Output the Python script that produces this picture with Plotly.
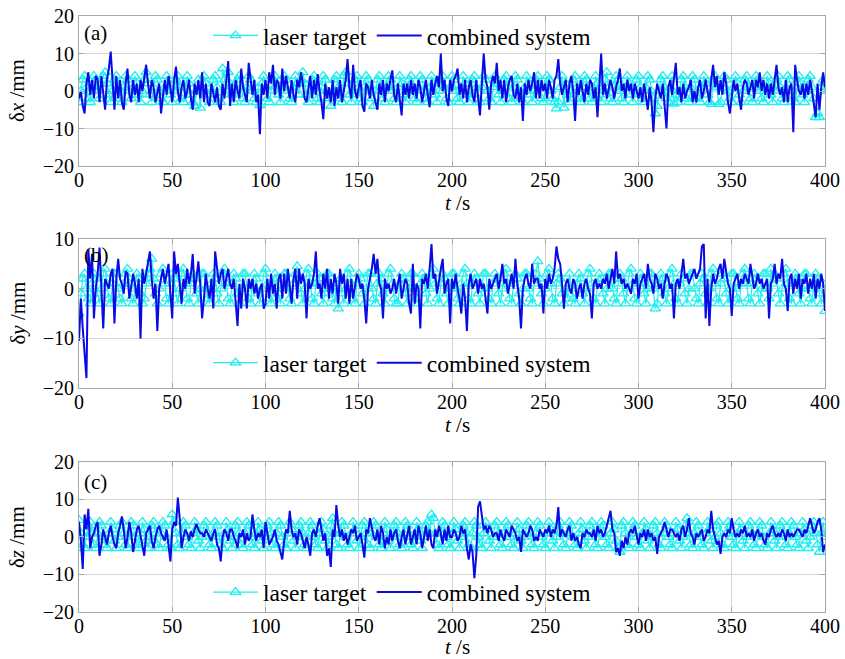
import plotly.graph_objects as go

# ---------------- data ----------------
t_cs = list(range(0, 401))   # combined system sample times (s)
t_lt = list(range(0, 401))   # laser target sample times (s)

cs_x = [
    -2, 0, -4, -6, 2, 5, -1, 3, -2, 4,
    3, -3, 4, -1, -5, 3, 6, 10.5, 4, -5,
    4, -2, 3, -3, -5, 2, 6, -1, -3, 3,
    -1, 2, -3, 3, 0, 4, 7, 2, -2, 3,
    1, -3, 0, 2, -6, -2, 3, -1, 4, 1,
    -3, 3, 6.5, 0, -3, 1, 3, -2, 0, 3,
    -2, -5, 2, -1, 3, -2, 5, -3, 2, -3,
    -4, 2, -1, -3, 1, -4, -5, 2, -2, 3,
    8, -4, 2, -3, 3, 0, -2, 6, 1, -1,
    -3, 7.5, 3, -1, 3, -3, -1, -11.5, 2, -1,
    3, -2, 5, 2, 7, -1, 3, 2, -2, 6,
    0, 4, 1, -2, 3, -1, -3, 3, 1, 5,
    2, -2, -3, 1, 4, -2, 3, -1, 4.5, 0,
    -3, -7.5, 2, -2, 1, -3, 3, -4, 1, -2,
    3, -3, 0, 3, 8.5, 1, -2, 7, 0, -2,
    1, 3, -4, -5.5, 2, 1, -2, 3, -1, -3,
    -5, 2, -1, 3, -3, 2, 0, 3, 5.5, -1,
    -3, 2, -3, -6.5, 2, -1, 2, -2, 3, -1,
    2, -2, 3, 1, -3, 0, 3, -1, -4.3, 3,
    -1, 2, 4, 1, 10, 0, 3, -2, -4, 3,
    0, 3, 4, 6, -1, 2, -2, 3, -3, 1,
    3, -1, -3, 3, -2, -6.5, 2, 10, 3, 1,
    -5, 2, 4, 2, 7.5, 0, 3, -2, 3, -3,
    1, 3, 4, -1, -2, 2, -3, 1, -8, 2,
    -1, 3, 0, 2, 5, -2, 3, -2, 3, 0,
    2, -2, 3, 1, -2, 3, 4, 8.5, 2, -1,
    1, 3, -3, 2, 4, 0, -8, 2, -1, 3,
    0, -3, 2, -1, 3, 2, -2, 1, -7, 3,
    10, -1, 2, -2, 1, 3, 1, -2, 1, 3,
    6, 0, 2, -2, 3, 0, 2, -2, 2, 0,
    -2, 1, -3, 2, -1, -5, 1, -3, -11, -2,
    2, 0, -2, 2, -3, -10, 1, 3, -1, 3,
    7.5, -1, 1, -3, 2, -2, 0, 1, 3, -3,
    0, -3, 1, 3, -2, 0, 3, 0, -3, 3,
    7, 1, 4, -1, 3, -1, 5, 2, -3, -6,
    -1, 3, 0, 2, -2, -5, 1, 3, 2, -1,
    1, 3, -2, 3, 1, 5, 0, 3, -1, 2,
    -2, 2, -1, 3, 7, 1, -1, 1, -3, 3,
    -3, 1, 2, -11, 7, 3, 0, -1, 2, -2,
    2, -1, 3, 0, -4, -7, 2, -5, 1, 5,
    1,
]

lt_x = [
    -3, 0, 3, 4, 1, -2, -3, 1, 4, 3,
    0, -2, 2, 4, 5, 2, -1, -3, 0, 3,
    4, 1, -2, -3, 1, 4, 3, 0, -2, 1,
    4, 2, -1, -3, 0, 3, 5, 2, -1, -3,
    1, 4, 3, 0, -2, -3, 1, 4, 2, -1,
    -3, 0, 3, 4, 1, -2, -3, 1, 4, 2,
    -1, -3, -4, 0, 3, -4.5, 1, 4, 2, -1,
    -3, 0, 3, 4, 1, -2, -3, 6, 3, 0,
    5, 2, -1, -3, 0, 3, 4, 1, -2, -3,
    1, 4, 3, 0, -2, -3, 1, -3.8, 2, 4,
    1, -2, -3, 0, 3, 4, 2, -1, -3, 1,
    4, 3, 0, -2, -3, 1, 4, 2, -1, 3,
    5, 2, -1, -3, 0, 3, 4, 1, -2, -3,
    1, 4, 3, 0, -2, -4, 0, 3, 4, 1,
    -2, -3, 4, 5, 2, -1, -3, 0, 3, 4,
    1, -2, -3, 1, 4, 3, 0, -2, -4, 0,
    3, 4, 1, -2, -3, 1, 4, 3, 0, -2,
    -3, 1, 4, 2, -1, -3, 0, 3, 4, 1,
    -2, -3, 1, 4, 3, 0, -2, -3, 1, 4,
    2, -1, -3, 0, 3, 4, 1, -2, -3, 1,
    4, 3, 0, -2, -3, 1, 4, 2, -1, -3,
    0, 3, 4, 1, -2, -3, 1, 4, 3, 0,
    -2, -3, 1, 4, 2, -1, -3, 0, 3, 4,
    1, -2, -3, 1, 4, 3, 0, -2, -3, 1,
    4, 2, -1, -3, 0, 3, 4, 1, -2, -3,
    1, 4, 3, 0, -2, -3, -4.7, -3, 1, 4,
    -4.5, 2, -1, -3, 0, 3, 4, 1, -2, -3,
    1, 4, 3, 0, -2, -3, 1, 4, 2, -1,
    -3, 0, 3, 5, 1, -2, -3, 1, 4, 3,
    0, -2, -3, 1, 4, 2, -1, -3, 0, 3,
    4, 1, -2, -3, 1, 4, 3, 0, -2, -6,
    -4, 0, 3, 4, 1, -2, -3, 1, 4, -3.4,
    -1, -3, 0, 3, 4, 1, -2, -3, 1, 4,
    3, 0, -2, -3, 1, 4, 2, -1, -3, -3.5,
    3, 4, 1, -3.5, -3, 1, 4, 3, 0, -2,
    -3, 1, 4, 2, -1, -3, 0, 3, 4, 1,
    -2, -3, 1, 4, 3, 0, -2, -3, 1, 4,
    2, -1, -3, 0, 3, 4, 1, -2, -3, 1,
    4, 3, 0, -2, -3, 1, 4, 2, -1, -3,
    0, 3, 4, 1, -2, -7, -6, -7, 1, 3,
    0,
]

cs_y = [
    -10.5, -2, -8, -13, -18, 8, 2, 7, -6, 0,
    3, 8.3, 0, -8, 2, 1, 0, 3, 4, -7,
    2, 6, 2, 1, -1, 3.5, 3, -2, 1, 3,
    1, -2, 2, -10, 4, 1, 3, 5, 7.5, 2,
    -2, 1, -8.5, 0, 2, 4, 1, 3, 5, -1,
    -6, 7.5, 3, 5, 1, -3, 2, 0, 4, 1,
    3, 7, -1, 2, 5.5, 1, -6, -2, 3, 0,
    -2, 2, -4, 7.5, 4, 1, 3, 4, 0, 2,
    4, 1, 0, 2, -2, -7.5, 1, -4, 2, 0,
    -4, 2, 0, 2, -1, 1, -2, 0, 1, -4,
    -3, 2, -2, 3, -1, 1, -4, 2, 3, -2,
    3, -1, 4, 1, -3, 2, 4, -2, 4, 1,
    3, 1, -6, 2, 0, 1, 3, 7.5, 0, 1,
    -2, 3, 0, 4, -2, 2, -1, 3, 1, -3,
    4, 1, 3, -2, 2, -3, 2, -2, 1, 3,
    2, 0, 1, -2, -7, 0, 2, 4, 7, 3,
    6, 1, 0, -6, 2, 0, 1, -1, 0, 2,
    -1, 1, 3, -2, 0, 2, 1, -3, -5, 5,
    -3, 1, 0, -8, 2, 1, 3, 0, 4, 9,
    2, 3, -1, 2, 4, 6, -1, 1, 2, -7,
    2, 0, 3, 0, -2, -5, 1, -2, -8.5, 1,
    3, 0, 1, 2, -1, 2, 0, 1, -2, -5,
    2, 0, 1, 2, 3, 0, 2, 5, 1, 2,
    -1, 1, 3, 0, 6, 1, -2, -8, 0, 2,
    3, 1, 0, 5, 1, 2, 2, 0, 1, -5,
    2, 0, 3, 1, 2, 4, 8.5, 6, 5, 1,
    -4, 1, 2, 0, -1, 2, 1, -2, 0, 1,
    -2, 1, 2, 0, -1, -6, 1, 2, 0, 1,
    0, 2, 1, 3, 0, 2, 4, 1, 7.5, 2,
    3, 1, 2, 0, 1, 0, -1, 2, 1, 3,
    -2, 1, 2, 3, 0, 5, 2, 1, -1, 3,
    2, 0, 1, -2, 1, 3, 2, 0, 1, -6,
    1, 2, 0, 3, 6, 2, 3, 1, 2, 3,
    4, 2, 3, 4, 8.5, 9, -6, 2, -7.5, 0,
    3, 1, 2, 4, 5, 2, 6, 3, 1, 0,
    -5.5, 1, 2, 3, 0, 2, 1, 3, 2, 1,
    5, 2, 0, 1, 3, 1, 2, 0, 1, 2,
    -6, 1, 2, 5, 1, 3, 2, 6, 1, 0,
    -4.5, 2, 3, -1, 2, 0, 3, -2, 2, 1,
    3, -1, 2, 0, 3, -2, 2, 0, 3, 1,
    -4.5,
]

lt_y = [
    -5, -1, 2, 3, 0, -2, -3, 1, 3, 2,
    -1, -3, 0, 3, 4, 1, -2, -3, 1, 3,
    3, 0, -2, -3, 1, 3, 4, 1, -2, -3,
    0, 3, 2, -1, -3, -2, 1, 3, 4, 6,
    2, -1, -3, 0, 3, 4, 1, -2, -3, 1,
    3, 2, -1, -3, 0, 3, 4, 1, -2, -3,
    1, 3, 2, -1, -3, 0, 3, 3, 0, -2,
    -3, 1, 3, 2, -1, -3, 0, 3, 4, 1,
    -2, -3, 1, 3, 2, -1, -3, 0, 3, 3,
    0, -2, -3, 1, 3, 2, -1, -3, 0, 3,
    4, 1, -2, -3, 1, 3, 2, -1, -3, 0,
    3, 3, 0, -2, -3, 1, 3, 4.5, 2, -1,
    -3, 0, 3, 4, 1, -2, -3, 1, 3, 2,
    -1, -3, 0, 3, 3, 0, -2, -3, 1, -4,
    2, -1, -3, 0, 3, 4, 1, -2, -3, 1,
    3, 2, -1, -3, 0, 3, 3, 0, -2, -3,
    1, 3, 2, -1, -3, 0, 3, 4, 1, -2,
    -3, -3, 1, 3, 2, -1, -3, 0, 3, 3,
    0, -2, -3, 1, 3, 2, -1, -3, 0, 3,
    4, 1, -2, -3, 1, 3, 2, -1, -3, 0,
    3, 3, 0, -2, -3, 1, 3, 4, 1, -2,
    -3, 1, 3, 2, -1, -3, 0, 3, 3, 0,
    -2, -3, 1, 3, 2, -1, -3, 0, 3, 4,
    1, -2, -3, 1, 3, 2, -1, -3, 0, 3,
    3, 0, -2, -3, 1, 3, 5.5, 2, -1, -3,
    0, 3, 4, 1, -2, -3, 1, 3, 2, -1,
    -3, 0, -2, 3, 0, -2, -3, 1, 3, 2,
    -1, -3, 0, 3, 4, 1, -2, -3, 1, 3,
    2, -1, -3, 0, 3, 3, 0, -2, -3, 1,
    3, 2, -1, -3, 0, 3, 4, 1, -2, -3,
    1, 3, 2, -1, -3, 0, 3, 3, 0, -4,
    -3, 1, 3, 2, -1, -3, 0, 3, 4, 1,
    -2, -3, 1, 3, 2, -1, -3, 0, 3, 3,
    0, -2, -3, 1, 3, 2, -1, -3, 0, 3,
    4, 1, -2, -3, 1, 3, 2, -1, -3, 0,
    3, 3, 0, -2, -3, 1, 3, 4, 1, -2,
    -3, 1, 3, 2, -1, -3, 0, 3, 3, 0,
    -2, 4, 1, 3, 2, -1, -3, 0, 3, 4,
    1, -2, -3, 1, 3, 2, -1, -3, 0, 3,
    3, 0, -2, -3, 1, 3, 2, -1, -3, 1,
    -4.5,
]

cs_z = [
    4, -1, -8.5, 6, 2, 7.5, -3, 0, 1, 3,
    4, -5, -2, 2, 0, -2, 1, 3, 0, -2,
    -3, 1, 3, 5.5, 2, -3, 0, 4, 1, -4,
    -1, 2, 3, 0, -2, -5, 1, 2, 3, -1,
    -3, 0, 2, 3, 1, 0, -1, 2, -3, -6.5,
    2, 4, 3, 10.5, 5, -3, 0, 2, 1, -1,
    1.5, 0, 2, 3.5, 2, 1, 1, 0, 2, 1,
    0, -1, 1, 2, -2, -3, -6.5, 0, 2, 1,
    -1, 2, 2, 0, -1, -3, 1, 0, 2, -2,
    1, -1, 0, 6, 2, -1, 1, 0, 2, -3,
    4, 1, -2, -1, 0, 2, -1, -2, -4, -6,
    -1, 2, 1, 7, 2, 0, 1, -2, 2, 1,
    -1, -3, 0, -2, -5, 1, 2, 0, 3, 5,
    2, -1, 1, -5, -3, -8, 2, 0, 8.5, 3,
    0, 2, -1, 1, -2, 0, 2, 1, 3, -1,
    0, 1, -2, -5.5, 2, 1, 5, 2, 0, -1,
    2, -2, 3, 1, -3, 0, -2, 2, -1, 1,
    2, -1, -3, 0, 2, -2, 1, 3, -2, 0,
    2, -2, 3, 1, -3, 0, 3, -1, 2, -2,
    -3, 2, 0, 3, 1, -2, 2, -1, 3, 0,
    0, 2, 1, -1, 0, 3, 1, 2, -3, -6,
    -2, -4, -11, -5, 8, 9.5, 6, 2, 3, 1,
    3, 2, 0, 1, 1, -1, 2, 0, -1, 2,
    1, 0, 3, 2, 1, -1, 0, -4, 2, 1,
    0, 1, 3, 2, -1, 0, -1, 2, 1, 0,
    2, 1, 3, 0, 2, 1, 3, 8, 0, 2,
    1, 0, 2, 3, -1, 1, -1, 0, -2, -3,
    1, 0, 2, 1, 1, 0, 2, -1, 3, 1,
    2, 0, 1, 3, 5, 7, 2, 1, -4, -3,
    -5, -1, -3, 0, -2, 1, 2, 1, 3, 0,
    -2, 1, 0, 2, -1, 2, 0, 1, -1, 0,
    -4.5, 0, 1, 2, 4, 2, 0, 2, 2, 1,
    0, 1, -1, 2, 3, 0, 2, 5, 1, 0,
    -2, 1, 0, 1, 2, -1, 0, 2, 1, 7,
    2, 0, -2, -1, -4.5, 0, 1, 0, 2, 1,
    5, 2, 0, 1, 0, 2, 1, 3, 0, 1,
    0, 2, -1, 1, 2, 0, 1, -1, -2, 1,
    0, 2, 3, 1, 0, 1, 0, 2, 1, -1,
    2, 0, 1, 0, 1, 2, 2, 1, 0, 2,
    1, 3, 5, 3, 1, 2, 4, 5, 2, -4,
    -2,
]

lt_z = [
    4.5, 1, -2, -3, 0, 3, 4, 1, -2, -3,
    1, 4, 3, 0, -2, -3, 1, 4, 2, -1,
    -3, 0, 3, 4, 1, -2, -3, 1, 4, 3,
    0, -2, -3, 1, 4, 2, -1, -3, 0, 3,
    4, 1, -2, -3, 1, 4, 3, 0, -2, -3,
    6, 4, 1, -2, -3, 1, 4, 3, 0, -2,
    -3, 1, 4, 2, -1, -3, 0, 3, 4, 1,
    -2, -3, 1, 4, 3, 0, -2, -3, 1, 4,
    2, -1, -3, 0, 3, 4, 1, -2, -3, 1,
    4, 3, 0, -2, -3, 1, 4, 2, -1, -3,
    0, 3, 4, 1, -2, -3, 1, 4, 3, 0,
    -2, -3, 1, 4, 2, -1, -3, 0, 3, 4,
    1, -2, -3, 1, 4, 3, 0, -2, -3, 1,
    4, 2, -1, -3, 0, 3, 5, 1, -2, -3,
    1, 4, 3, 0, -2, -3, 1, 4, 2, -1,
    -3, 0, 3, 4, 1, -2, -3, 1, 4, 3,
    0, -2, -3, 1, 4, 2, -1, -3, 0, 3,
    4, 1, -2, -3, 1, 4, 3, 0, -2, -3,
    1, 4, 2, -1, -3, 0, 3, 4, 1, 6,
    5, 1, -2, -3, 1, 4, 3, 0, -2, -3,
    1, 4, 2, -1, -3, 0, 3, 4, 1, -2,
    -3, 1, 4, 3, 0, -2, -3, 1, 4, 2,
    -1, -3, 0, 3, 4, 1, -2, -3, 1, 4,
    3, 0, -2, -3, 1, 4, 2, -1, -3, 0,
    3, 4, 1, -2, -3, 1, 4, 3, 0, -2,
    -3, 1, 4, 2, -1, -3, 0, 3, 4, 1,
    -2, -3, 1, 4, 3, 0, -2, -3, 1, 4,
    2, -1, -3, 0, 3, 4, 1, -2, -3, 1,
    4, 3, 0, -2, -3, 1, 4, 2, -1, -3,
    -4, 3, 4, 1, -2, -3, 1, 4, 3, 0,
    -2, -3, 1, 4, 2, -1, -3, 0, 3, 4,
    1, -2, -3, 1, 4, 3, 0, -2, -3, 1,
    4, 2, -1, -3, 0, 3, 5, 1, -2, -3,
    1, 4, 3, 0, -2, -3, 1, 4, 2, -1,
    -3, 0, 3, 4, 1, -2, -3, 1, 4, 3,
    0, -2, -3, 1, 4, 2, -1, -3, 0, 3,
    4, 1, -2, -3, 1, 4, 3, 0, -2, -3,
    1, 4, 2, -1, -3, 0, 3, 4, 1, -2,
    -3, 1, 4, 3, 0, -2, -3, 1, 4, 2,
    -1, -3, 0, 3, 4, 1, -2, -4, 1, 4,
    0,
]

x_ticks = [0, 50, 100, 150, 200, 250, 300, 350, 400]
panel_labels = ["(a)", "(b)", "(c)"]
y_titles = ["δ<i>x</i> /mm", "δ<i>y</i> /mm", "δ<i>z</i> /mm"]
x_title = "<i>t</i> /s"
y_ranges = [[-20, 20], [-20, 10], [-20, 20]]
y_ticks = [[-20, -10, 0, 10, 20], [-20, -10, 0, 10], [-20, -10, 0, 10, 20]]
series_names = ["laser target", "combined system"]

# ---------------- styling ----------------
FONT = "Liberation Serif, Times New Roman, serif"
CYAN = "#1EEEF0"
BLUE = "#0A0AE6"
GRID = "#d4d4d4"
FRAME = "#a8a8a8"

domains = [[0.7483, 1.0], [0.3758, 0.6258], [0.0, 0.2517]]
legend_y = [0.967, 0.418, 0.033]
label_y = [0.9715, 0.599, 0.218]
xtitle_y = [0.6862, 0.3138, -0.0587]

lt_data = [lt_x, lt_y, lt_z]
cs_data = [cs_x, cs_y, cs_z]

fig = go.Figure()
for i in range(3):
    xa = "x" if i == 0 else f"x{i+1}"
    ya = "y" if i == 0 else f"y{i+1}"
    lg = "legend" if i == 0 else f"legend{i+1}"
    fig.add_trace(go.Scatter(
        x=t_lt[:len(lt_data[i])], y=lt_data[i], mode="lines+markers",
        name=series_names[0], xaxis=xa, yaxis=ya, legend=lg,
        line=dict(color=CYAN, width=1.2),
        marker=dict(symbol="triangle-up-open", size=9, color=CYAN,
                    line=dict(width=1.3, color=CYAN)),
    ))
    fig.add_trace(go.Scatter(
        x=t_cs[:len(cs_data[i])], y=cs_data[i], mode="lines",
        name=series_names[1], xaxis=xa, yaxis=ya, legend=lg,
        line=dict(color=BLUE, width=2),
    ))

layout = dict(
    width=845, height=659,
    margin=dict(l=79, r=20, t=16, b=47),
    paper_bgcolor="white", plot_bgcolor="white",
    font=dict(family=FONT, size=20, color="black"),
    annotations=[],
)
for i in range(3):
    sx = "xaxis" if i == 0 else f"xaxis{i+1}"
    sy = "yaxis" if i == 0 else f"yaxis{i+1}"
    ya = "y" if i == 0 else f"y{i+1}"
    xa = "x" if i == 0 else f"x{i+1}"
    layout[sx] = dict(
        domain=[0, 1], anchor=ya, range=[0, 400], tickvals=x_ticks,
        showgrid=True, gridcolor=GRID, gridwidth=1,
        showline=True, linecolor=FRAME, linewidth=1, mirror="allticks",
        ticks="inside", ticklen=5, tickcolor=FRAME, ticklabelstandoff=-4,
        zeroline=False, tickfont=dict(size=20, family=FONT), automargin=False,
    )
    layout[sy] = dict(
        domain=domains[i], anchor=xa, range=y_ranges[i], tickvals=y_ticks[i],
        showgrid=True, gridcolor=GRID, gridwidth=1,
        showline=True, linecolor=FRAME, linewidth=1, mirror="allticks",
        ticks="inside", ticklen=5, tickcolor=FRAME,
        zeroline=False, tickfont=dict(size=20, family=FONT), automargin=False,
    )
    lg = "legend" if i == 0 else f"legend{i+1}"
    layout[lg] = dict(
        orientation="h", x=0.1729, xanchor="left", y=legend_y[i], yanchor="middle",
        bgcolor="rgba(0,0,0,0)", borderwidth=0,
        font=dict(size=23.5, family=FONT), traceorder="normal",
        itemwidth=45,
    )
    layout["annotations"].append(dict(
        text=panel_labels[i], xref="paper", yref="paper",
        x=0.004, y=label_y[i], xanchor="left", yanchor="middle",
        showarrow=False, font=dict(size=21, family=FONT),
    ))
    layout["annotations"].append(dict(
        text=y_titles[i], xref="paper", yref="paper",
        x=-0.083, y=sum(domains[i]) / 2, xanchor="center", yanchor="middle",
        textangle=-90, showarrow=False, font=dict(size=21, family=FONT),
    ))
    layout["annotations"].append(dict(
        text=x_title, xref="paper", yref="paper",
        x=0.508, y=xtitle_y[i], xanchor="center", yanchor="middle",
        showarrow=False, font=dict(size=21, family=FONT),
    ))

fig.update_layout(**layout)
print(len(cs_x), len(cs_y), len(cs_z), len(lt_x), len(lt_y), len(lt_z))
fig.write_html("out.html", config={"displayModeBar": False})

# remove the default page margin so the figure sits at the window's top-left corner
with open("out.html", "r", encoding="utf-8") as f:
    html = f.read()
html = html.replace("<head>", "<head><style>html,body{margin:0;padding:0;overflow:hidden;}</style>", 1)
with open("out.html", "w", encoding="utf-8") as f:
    f.write(html)
